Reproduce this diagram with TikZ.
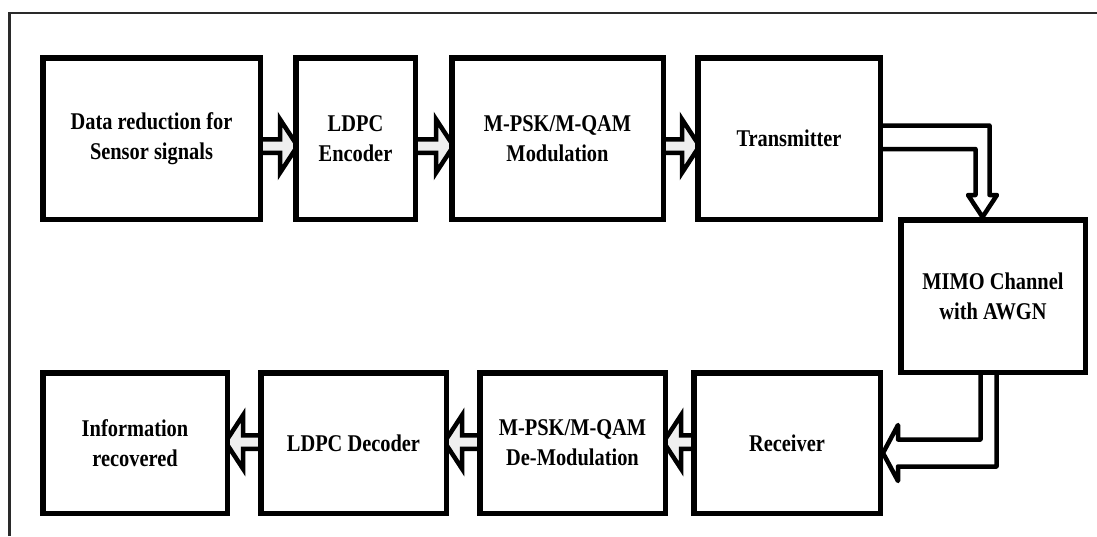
\documentclass[tikz,border=0pt]{standalone}
\usepackage{fontspec}
\setmainfont{Liberation Serif}[FakeStretch=0.85]
\usetikzlibrary{calc}
\pgfdeclarelayer{bg}
\pgfsetlayers{bg,main}
\definecolor{framegray}{HTML}{2A2A2A}
\definecolor{shaftfill}{HTML}{EFEFEF}
\tikzset{
  box/.style={draw=black, line width=5.5pt, fill=white, align=center, inner sep=0pt,
    font=\bfseries\fontsize{24}{30}\selectfont},
  flow/.style={draw=black, line width=4.5pt, fill=shaftfill, line join=miter},
  % hollow block arrow pointing right (start gives the height, target the x of the next box)
  rarrow/.style={flow, to path={let \p1=(\tikztostart), \p2=(\tikztotarget) in
    (\x1,{\y1+6.75pt}) -- ({\x2-13pt},{\y1+6.75pt}) -- ({\x2-13pt},{\y1+26.75pt})
    -- ({\x2+4.5pt},\y1) -- ({\x2-13pt},{\y1-26.75pt}) -- ({\x2-13pt},{\y1-6.75pt})
    -- (\x1,{\y1-6.75pt})}},
  % same, pointing left
  larrow/.style={flow, to path={let \p1=(\tikztostart), \p2=(\tikztotarget) in
    (\x1,{\y1+6.75pt}) -- ({\x2+13pt},{\y1+6.75pt}) -- ({\x2+13pt},{\y1+26.75pt})
    -- ({\x2-4.5pt},\y1) -- ({\x2+13pt},{\y1-26.75pt}) -- ({\x2+13pt},{\y1-6.75pt})
    -- (\x1,{\y1-6.75pt})}},
  elbowarrow/.style={draw=black, line width=4.5pt, line join=round, line cap=butt},
}
\begin{document}
\begin{tikzpicture}[x=1pt,y=-1pt]
\useasboundingbox (0,0) rectangle (1097,536);

% outer frame (left and top sides)
\draw[framegray, line width=2.5pt] (9.5,536) -- (9.5,12.75) -- (1097,12.75);

% transmit chain
\node[box, minimum width=217.5pt, minimum height=161.5pt] (b1) at (151.5,138.5) {Data reduction for\\Sensor signals};
\node[box, minimum width=119.5pt, minimum height=161.5pt] (b2) at (355.5,138.5) {LDPC\\Encoder};
\node[box, minimum width=211.5pt, minimum height=161.5pt] (b3) at (557.5,138.5) {M-PSK/M-QAM\\Modulation};
\node[box, minimum width=182.5pt, minimum height=161.5pt] (b4) at (789,138.5) {Transmitter};

% channel
\node[box, minimum width=184.5pt, minimum height=152.5pt] (b5) at (993,296) {MIMO Channel\\with AWGN};

% receive chain
\node[box, minimum width=184.5pt, minimum height=140.5pt] (b6) at (135,443) {Information\\recovered};
\node[box, minimum width=185.5pt, minimum height=140.5pt] (b7) at (353.5,443) {LDPC Decoder};
\node[box, minimum width=185.5pt, minimum height=140.5pt] (b8) at (572.5,443) {M-PSK/M-QAM\\De-Modulation};
\node[box, minimum width=186.5pt, minimum height=140.5pt] (b9) at (787,443) {Receiver};

\begin{pgfonlayer}{bg}
  \draw[rarrow] ($(b1.east)+(0,7.5)$) to (b2.west);
  \draw[rarrow] ($(b2.east)+(0,7.5)$) to (b3.west);
  \draw[rarrow] ($(b3.east)+(0,7.5)$) to (b4.west);

  \draw[larrow] ($(b9.west)+(0,-1)$) to (b8.east);
  \draw[larrow] ($(b8.west)+(0,-1)$) to (b7.east);
  \draw[larrow] ($(b7.west)+(0,-1)$) to (b6.east);

  % transmitter -> channel
  \draw[elbowarrow] ($(b4.east)+(0,-13)$) -- (989.5,125.5) -- (989.5,195) -- (997,195)
    -- ($(b5.north)+(-10.5,0)$) -- (968,195) -- (975.5,195) -- (975.5,149)
    -- ($(b4.east)+(0,10.5)$);
  % channel -> receiver
  \draw[elbowarrow] ($(b5.south)+(-12.5,0)$) -- (980.5,439.5) -- (898,439.5) -- (898,425)
    -- ($(b9.east)+(0,10)$) -- (898,481) -- (898,466.5) -- (996.5,466.5)
    -- ($(b5.south)+(3.5,0)$);
\end{pgfonlayer}
\end{tikzpicture}
\end{document}
